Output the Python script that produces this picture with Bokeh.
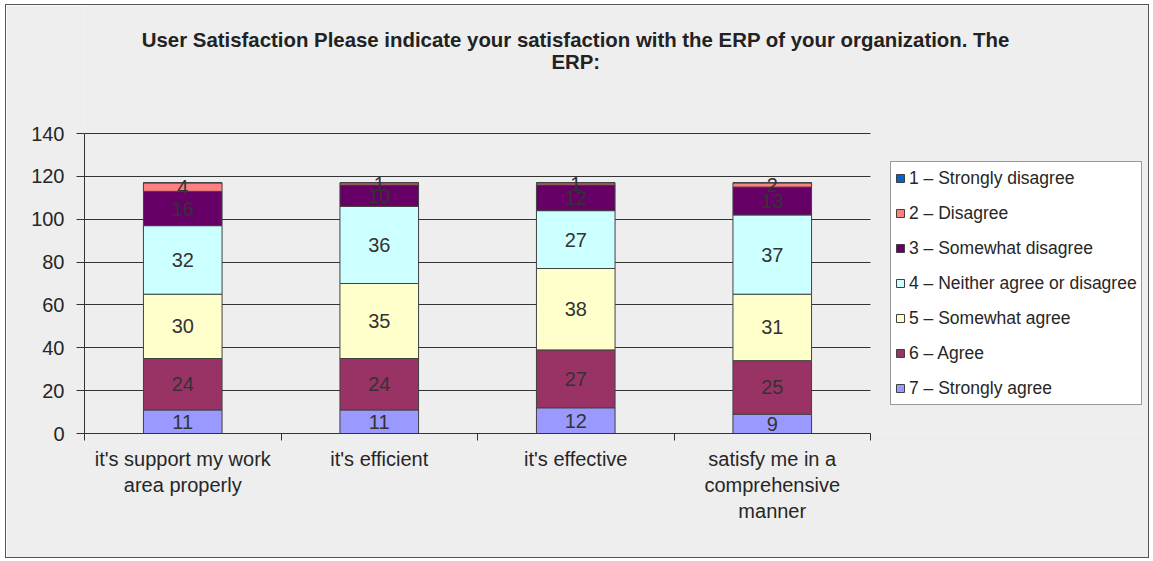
from bokeh.plotting import figure
from bokeh.models import (Range1d, FixedTicker, ColumnDataSource, LabelSet, Label,
                          Legend, LegendItem)
from bokeh.core.properties import value
from bokeh.embed import file_html
from bokeh.resources import INLINE

# ---------------- data ----------------
categories = ["it's support my work\narea properly", "it's efficient",
              "it's effective", "satisfy me in a\ncomprehensive\nmanner"]
series_names = ["1 \u2013 Strongly disagree", "2 \u2013 Disagree", "3 \u2013 Somewhat disagree",
                "4 \u2013 Neither agree or disagree", "5 \u2013 Somewhat agree",
                "6 \u2013 Agree", "7 \u2013 Strongly agree"]
strongly_disagree = [0, 0, 0, 0]
disagree = [4, 1, 1, 2]
somewhat_disagree = [16, 10, 12, 13]
neither = [32, 36, 27, 37]
somewhat_agree = [30, 35, 38, 31]
agree = [24, 24, 27, 25]
strongly_agree = [11, 11, 12, 9]
colors = ["#0066CC", "#FF8080", "#660066", "#CCFFFF", "#FFFFCC", "#993366", "#9999FF"]
y_ticks = [0, 20, 40, 60, 80, 100, 120, 140]
title_lines = ["User Satisfaction Please indicate your satisfaction with the ERP of your organization. The",
               "ERP:"]

series = [strongly_disagree, disagree, somewhat_disagree, neither,
          somewhat_agree, agree, strongly_agree]

FONT = "Liberation Sans"
TXT = "#262626"

W, H = 1144, 554
LEFT, BOTTOM = 78, 126
FRAME_W_PLOT, FRAME_H_PLOT = 786, 300   # pixel size of the 0..4 x 0..140 plot region

# frame covers the whole canvas right of the y axis and above the x axis;
# the axis/grid extents are limited with bounds.
p = figure(width=W, height=H, output_backend="svg", toolbar_location=None,
           x_range=Range1d(0, 4 * (W - LEFT) / FRAME_W_PLOT),
           y_range=Range1d(0, 140 * (H - BOTTOM) / FRAME_H_PLOT),
           min_border_left=LEFT, min_border_right=0, min_border_top=0,
           min_border_bottom=BOTTOM)
p.background_fill_color = "#EEEEEE"
p.border_fill_color = "#EEEEEE"
p.outline_line_color = None
p.styles = {"border": "1px solid #555555", "margin-left": "5px", "margin-top": "4px"}

xpos = [i + 0.5 for i in range(len(categories))]
data = {"x": xpos}
keys = []
for k, vals in enumerate(series):
    key = "s%d" % k
    keys.append(key)
    data[key] = vals
src = ColumnDataSource(data)

# stack bottom-up: 7 ... 1
order = list(range(len(series)))[::-1]
renderers = p.vbar_stack([keys[k] for k in order], x="x", width=0.4, source=src,
                         fill_color=[colors[k] for k in order],
                         line_color="#404040", line_width=1)
rmap = {k: r for k, r in zip(order, renderers)}

# value labels
lx, ly, lt = [], [], []
for i in range(len(categories)):
    base = 0
    for k in order:
        v = series[k][i]
        if v > 0:
            lx.append(xpos[i]); ly.append(base + v / 2.0); lt.append(str(v))
        base += v
p.add_layout(LabelSet(x="x", y="y", text="t", source=ColumnDataSource(dict(x=lx, y=ly, t=lt)),
                      text_align="center", text_baseline="middle", text_font=value(FONT),
                      text_font_size="20px", text_color="#333333"))

# axes
xa = p.xaxis[0]
xa.bounds = (0, len(categories))
xa.ticker = FixedTicker(ticks=xpos, minor_ticks=list(range(len(categories) + 1)))
xa.major_label_overrides = {x: c for x, c in zip(xpos, categories)}
xa.major_tick_out = 0
xa.major_tick_in = 0
xa.minor_tick_out = 7
xa.minor_tick_in = 0
xa.minor_tick_line_color = "#333333"
xa.axis_line_color = "#333333"
xa.major_label_text_font = FONT
xa.major_label_text_font_size = "20px"
xa.major_label_text_color = TXT
xa.major_label_standoff = 7

ya = p.yaxis[0]
ya.bounds = (y_ticks[0], y_ticks[-1])
ya.ticker = FixedTicker(ticks=y_ticks)
ya.major_tick_out = 8
ya.major_tick_in = 0
ya.minor_tick_line_color = None
ya.axis_line_color = "#333333"
ya.major_tick_line_color = "#333333"
ya.major_label_text_font = FONT
ya.major_label_text_font_size = "20px"
ya.major_label_text_color = TXT
ya.major_label_standoff = 12

p.xgrid.grid_line_color = None
p.ygrid.grid_line_color = "#333333"
p.ygrid.ticker = FixedTicker(ticks=y_ticks)
p.ygrid.cross_bounds = (0, len(categories))

# title
for txt, yy in zip(title_lines, [183.6, 173.4]):
    p.add_layout(Label(x=2.5, y=yy, text=txt, text_align="center", text_baseline="middle",
                       text_font=FONT, text_font_style="bold", text_font_size="20.4px",
                       text_color="#222222"))

legend = Legend(items=[LegendItem(label=series_names[k], renderers=[rmap[k]]) for k in range(len(series))],
                location=(806, 28), padding=4, spacing=11, label_height=24, glyph_height=10,
                glyph_width=10, label_standoff=4, label_text_font=FONT,
                label_text_font_size="17.5px", label_text_color=TXT,
                border_line_color="#333333", background_fill_color="white",
                background_fill_alpha=1, margin=0)
p.add_layout(legend, "center")

open("out.html", "w").write(file_html(p, INLINE))
